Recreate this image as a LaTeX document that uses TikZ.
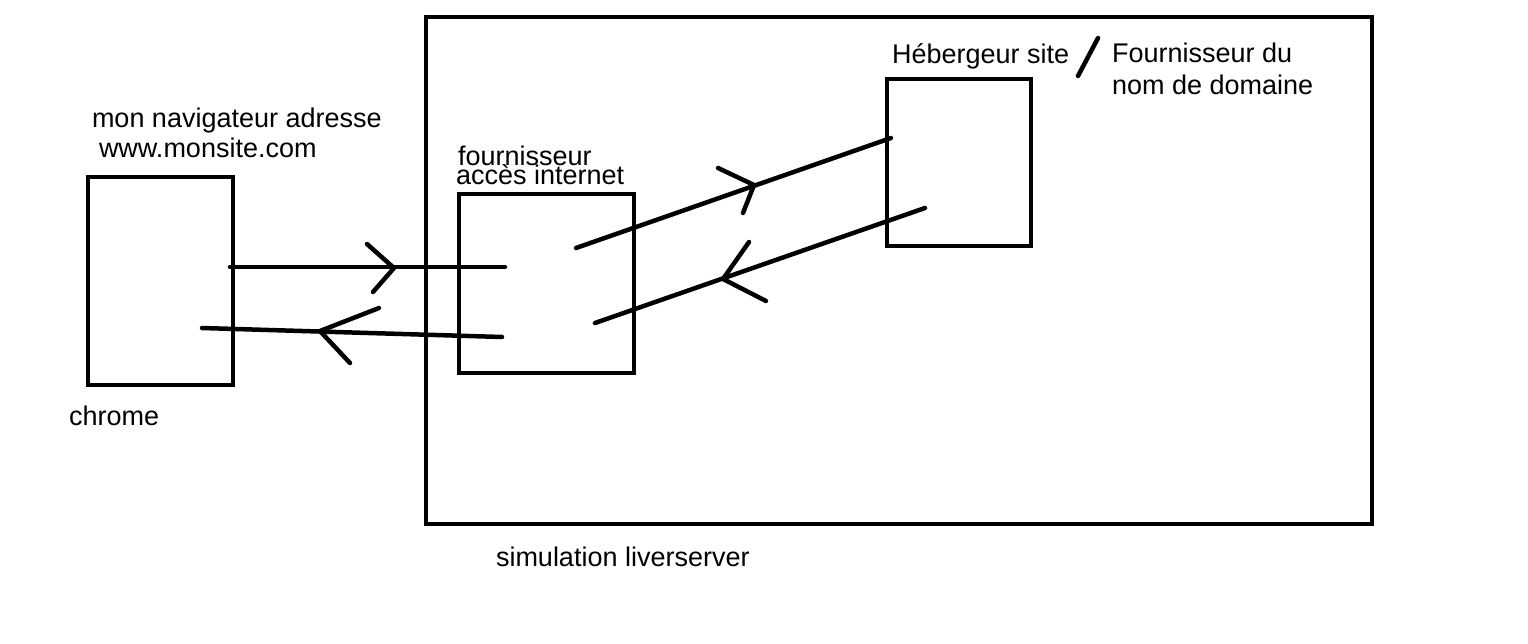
\documentclass[tikz,border=0pt]{standalone}
\usepackage{fontspec}
\setmainfont{Liberation Sans}
\begin{document}
\begin{tikzpicture}[x=1pt,y=-1pt,
  box/.style={draw=black,line width=4.5pt,rectangle,inner sep=0pt,outer sep=0pt},
  conn/.style={draw=black,line width=4.5pt,line cap=round,line join=round},
  lbl/.style={anchor=base west,inner sep=0pt,outer sep=0pt,font=\fontsize{27}{27}\selectfont}]
\useasboundingbox[fill=white] (0,0) rectangle (1528,644);
% boxes
\node[box,minimum width=946pt,minimum height=507pt] (server) at (899,270.5) {};
\node[box,minimum width=145pt,minimum height=208pt] (chrome) at (160.5,281) {};
\node[box,minimum width=175pt,minimum height=179pt] (fai) at (546.5,283.5) {};
\node[box,minimum width=144pt,minimum height=167pt] (host) at (959,162.5) {};
% labels
\node[lbl] (t1) at (92,128) {mon navigateur adresse};
\node[lbl] (t2) at (99,158) {www.monsite.com};
\node[lbl] (t3) at (69,425) {chrome};
\node[lbl] (t4) at (458,166) {fournisseur};
\node[lbl] (t5) at (456,185) {accès internet};
\node[lbl] (t6) at (892,64) {Hébergeur site};
\node[lbl] (t7) at (1112,63) {Fournisseur du};
\node[lbl] (t8) at (1112,95) {nom de domaine};
\node[lbl] (t9) at (496,566) {simulation liverserver};
% connector end points
\coordinate (a1) at (230,267);
\coordinate (a2) at (505,267);
\coordinate (b1) at (502,337);
\coordinate (b2) at (202,328);
\coordinate (c1) at (576,248);
\coordinate (c2) at (891,138);
\coordinate (d1) at (925,208);
\coordinate (d2) at (595,323);
\coordinate (s1) at (1098,38);
\coordinate (s2) at (1078,76);
% connectors
\draw[conn] (a1) -- (a2);
\draw[conn] (b1) -- (b2);
\draw[conn] (c1) -- (c2);
\draw[conn] (d1) -- (d2);
\draw[conn] (s1) -- (s2);
% hand-drawn chevrons
\draw[conn] (367,244) -- (394,268) -- (373,292);
\draw[conn] (379,308) -- (320,331) -- (350,363);
\draw[conn] (718,168) -- (754,185) -- (743,213);
\draw[conn] (749,242) -- (723,279) -- (766,301);
\end{tikzpicture}
\end{document}
